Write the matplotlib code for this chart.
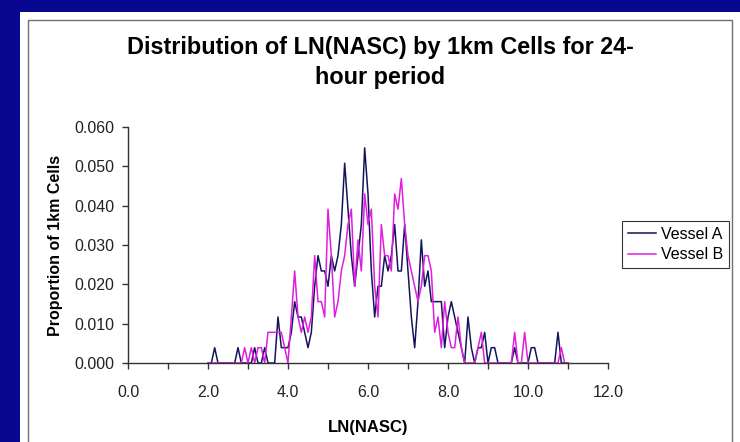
import numpy as np
import matplotlib as mpl
mpl.use('Agg')
from matplotlib import pyplot as plt
from matplotlib.patches import Rectangle
from matplotlib.ticker import MultipleLocator, FormatStrFormatter

# LN(NASC) bins are 1/12 wide, first bin shown = 24 (2.0), last = 132 (11.0)
bin_first   = 24
bin_last    = 132
bin_width   = 1.0/12

vessel_a = [0.0, 0.0, 0.0039, 0.0, 0.0, 0.0, 0.0, 0.0, 0.0, 0.0039,
            0.0, 0.0, 0.0, 0.0, 0.0039, 0.0, 0.0, 0.0039, 0.0, 0.0,
            0.0, 0.0117, 0.0039, 0.0039, 0.0039, 0.0078, 0.0156, 0.0117, 0.0117, 0.0078,
            0.0039, 0.0078, 0.0195, 0.0273, 0.0234, 0.0234, 0.0195, 0.0273, 0.0234, 0.0273,
            0.0352, 0.0508, 0.0391, 0.0273, 0.0195, 0.0273, 0.0352, 0.0547, 0.0430, 0.0234,
            0.0117, 0.0195, 0.0195, 0.0273, 0.0234, 0.0273, 0.0352, 0.0234, 0.0234, 0.0352,
            0.0234, 0.0117, 0.0039, 0.0156, 0.0313, 0.0195, 0.0234, 0.0156, 0.0156, 0.0156,
            0.0156, 0.0039, 0.0117, 0.0156, 0.0117, 0.0078, 0.0039, 0.0, 0.0117, 0.0039,
            0.0, 0.0039, 0.0039, 0.0078, 0.0, 0.0039, 0.0039, 0.0, 0.0, 0.0,
            0.0, 0.0, 0.0039, 0.0, 0.0, 0.0, 0.0, 0.0039, 0.0039, 0.0,
            0.0, 0.0, 0.0, 0.0, 0.0, 0.0078, 0.0, 0.0, 0.0]

vessel_b = [0.0, 0.0, 0.0, 0.0, 0.0, 0.0, 0.0, 0.0, 0.0, 0.0,
            0.0, 0.0039, 0.0, 0.0039, 0.0, 0.0039, 0.0039, 0.0, 0.0078, 0.0078,
            0.0078, 0.0078, 0.0078, 0.0039, 0.0, 0.0117, 0.0234, 0.0117, 0.0078, 0.0117,
            0.0078, 0.0117, 0.0273, 0.0156, 0.0156, 0.0117, 0.0391, 0.0273, 0.0117, 0.0156,
            0.0234, 0.0273, 0.0352, 0.0391, 0.0195, 0.0313, 0.0234, 0.0430, 0.0352, 0.0391,
            0.0195, 0.0117, 0.0352, 0.0273, 0.0273, 0.0234, 0.0430, 0.0391, 0.0469, 0.0352,
            0.0273, 0.0234, 0.0195, 0.0156, 0.0195, 0.0273, 0.0273, 0.0234, 0.0078, 0.0117,
            0.0039, 0.0156, 0.0078, 0.0039, 0.0039, 0.0117, 0.0039, 0.0, 0.0, 0.0,
            0.0, 0.0039, 0.0078, 0.0, 0.0, 0.0, 0.0, 0.0, 0.0, 0.0,
            0.0, 0.0, 0.0078, 0.0, 0.0, 0.0078, 0.0, 0.0, 0.0, 0.0,
            0.0, 0.0, 0.0, 0.0, 0.0, 0.0, 0.0039, 0.0, 0.0]

series = [('Vessel A', vessel_a, '#14145e'),
          ('Vessel B', vessel_b, '#e01ee0')]

title   = 'Distribution of LN(NASC) by 1km Cells for 24-\nhour period'
xlabel  = 'LN(NASC)'
ylabel  = 'Proportion of 1km Cells'

fam     = 'Liberation Sans'

W, H = 740., 442.
fig = plt.figure(figsize=(7.4, 4.42), dpi=100)
fig.patch.set_facecolor('#07078f')

# white chart panel on the blue slide + grey chart border
fig.patches.append(Rectangle((20/W, 0), 1, (H-12)/H, transform=fig.transFigure,
                             facecolor='white', edgecolor='none', zorder=-5))
fig.patches.append(Rectangle((28/W, -0.05), (732-28)/W, (H-20)/H + 0.05,
                             transform=fig.transFigure, facecolor='none',
                             edgecolor='#707070', lw=1.0, zorder=-4))

ax = fig.add_axes([128/W, (H-363)/H, 480/W, 236/H])
ax.set_facecolor('none')
ax.set_zorder(2)

xx = np.arange(bin_first, bin_last+1)*bin_width
for name, vals, col in series:
    ax.plot(xx, vals, color=col, lw=1.1, label=name, clip_on=False)

ax.set_xlim(0, 12)
ax.set_ylim(0, 0.060)
ax.xaxis.set_major_locator(MultipleLocator(2))
ax.xaxis.set_minor_locator(MultipleLocator(1))
ax.xaxis.set_major_formatter(FormatStrFormatter('%.1f'))
ax.yaxis.set_major_locator(MultipleLocator(0.01))
ax.yaxis.set_major_formatter(FormatStrFormatter('%.3f'))
for sp in ['top', 'right']:
    ax.spines[sp].set_visible(False)
for sp in ['left', 'bottom']:
    ax.spines[sp].set_color('#333333')
    ax.spines[sp].set_linewidth(1.0)
ax.tick_params(which='both', direction='out', length=4, width=1.0, color='#333333')
ax.tick_params(axis='x', which='major', pad=12)
ax.tick_params(axis='y', pad=6)
for lbl in ax.get_xticklabels() + ax.get_yticklabels():
    lbl.set_family(fam)
    lbl.set_fontsize(11.5)
    lbl.set_color('#222222')

ax.set_xlabel(xlabel, family=fam, fontsize=12, fontweight='bold', labelpad=14)
ax.set_ylabel(ylabel, family=fam, fontsize=11.5, fontweight='bold', labelpad=8)

fig.text(380/W, 1-36/H, title, ha='center', va='top', family=fam,
         fontsize=16.8, fontweight='bold', linespacing=1.4)

leg = fig.legend(loc='upper left', bbox_to_anchor=(622/W, 1-221/H),
                 prop={'family': fam, 'size': 11.5}, frameon=True, fancybox=False,
                 handlelength=1.8, handletextpad=0.3, borderpad=0.35, labelspacing=0.35,
                 borderaxespad=0)
leg.get_frame().set_edgecolor('black')
leg.get_frame().set_linewidth(0.8)

fig.savefig('out.png', dpi=100, facecolor=fig.get_facecolor())
